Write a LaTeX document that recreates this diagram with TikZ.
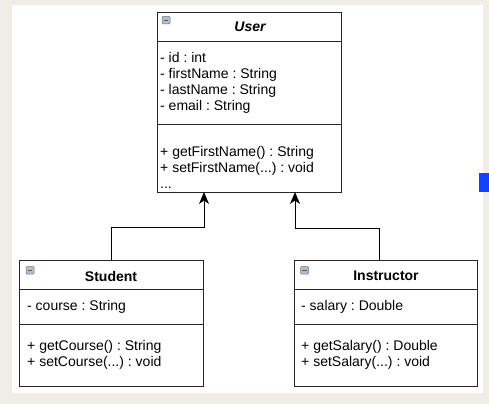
\documentclass[tikz,border=0pt]{standalone}
\usepackage{fontspec}
\setmainfont{Liberation Sans}
\usetikzlibrary{arrows.meta,calc,shadows}
\definecolor{paper}{RGB}{240,237,230}
\definecolor{boxline}{RGB}{40,40,40}
\definecolor{iconfill}{RGB}{178,190,205}
\definecolor{marker}{RGB}{20,64,250}
\frenchspacing

\begin{document}
\begin{tikzpicture}[x=1pt, y=-1pt,
	classbox/.style = {draw=boxline, line width=0.9pt, fill=white, inner sep=0pt,
		drop shadow={shadow xshift=1pt, shadow yshift=-1pt, opacity=0.35}},
	title/.style = {font=\fontsize{14}{16}\selectfont\bfseries},
	members/.style = {anchor=north west, inner sep=0pt, align=left,
		font=\fontsize{14}{16}\selectfont},
	inherit/.style = {line width=0.9pt, -{Stealth[length=12pt,width=10pt,inset=3.5pt]}}]
	% background and panel
	\fill[paper] (0,0) rectangle (489,404);
	\fill[white] (12,5) rectangle (483,393);
	\fill[marker] (479,173) rectangle (489,192);
	\useasboundingbox (0,0) rectangle (489,404);

	% classes
	\node[classbox, minimum width=184pt, minimum height=180pt] (user) at (249,102) {};
	\node[classbox, minimum width=184pt, minimum height=126pt] (student) at (111,323) {};
	\node[classbox, minimum width=183pt, minimum height=126pt] (instructor) at (385.5,323) {};

	% compartments
	\draw[boxline, line width=0.9pt] ($(user.north west)+(0,30)$) -- ($(user.north east)+(0,30)$);
	\draw[boxline, line width=0.9pt] ($(user.north west)+(0,113)$) -- ($(user.north east)+(0,113)$);
	\foreach \c in {student, instructor} {
		\draw[boxline, line width=0.9pt] ($(\c.north west)+(0,30)$) -- ($(\c.north east)+(0,30)$);
		\draw[boxline, line width=0.9pt] ($(\c.north west)+(0,65)$) -- ($(\c.north east)+(0,65)$);
	}

	% collapse icons
	\foreach \x/\y in {162/16.5, 26/266.5, 300.5/266.5} {
		\draw[iconfill!60!black, fill=iconfill, line width=0.5pt, rounded corners=1pt] (\x,\y) rectangle ++(8,7.5);
		\draw[black!65, line width=1.1pt] (\x+1.8,\y+3.75) -- ++(4.4,0);
	}

	% titles
	\node[title, font=\fontsize{14}{16}\selectfont\bfseries\itshape] (userTitle) at (250,27) {User};
	\node[title] (studentTitle) at (111,276) {Student};
	\node[title] (instructorTitle) at (386,276) {Instructor};

	% members
	\node[members] (userAttr) at (160,52) {- id : int\\- firstName : String\\- lastName : String\\- email : String};
	\node[members] (userOps) at (160,146) {+ getFirstName() : String\\+ setFirstName(...) : void\\...};
	\node[members] (studentAttr) at (27,300) {- course : String};
	\node[members] (studentOps) at (27,340) {+ getCourse() : String\\+ setCourse(...) : void};
	\node[members] (instructorAttr) at (301,300) {- salary : Double};
	\node[members] (instructorOps) at (301,340) {+ getSalary() : Double\\+ setSalary(...) : void};

	% generalisation
	\coordinate (userJoinL) at (204,192);
	\coordinate (userJoinR) at (295,192);
	\coordinate (instructorJoin) at (379,260);
	\draw[inherit] (student.north) -- ++(0,-32) -| (userJoinL);
	\draw[inherit] (instructorJoin) -- ++(0,-32) -| (userJoinR);
\end{tikzpicture}
\end{document}
